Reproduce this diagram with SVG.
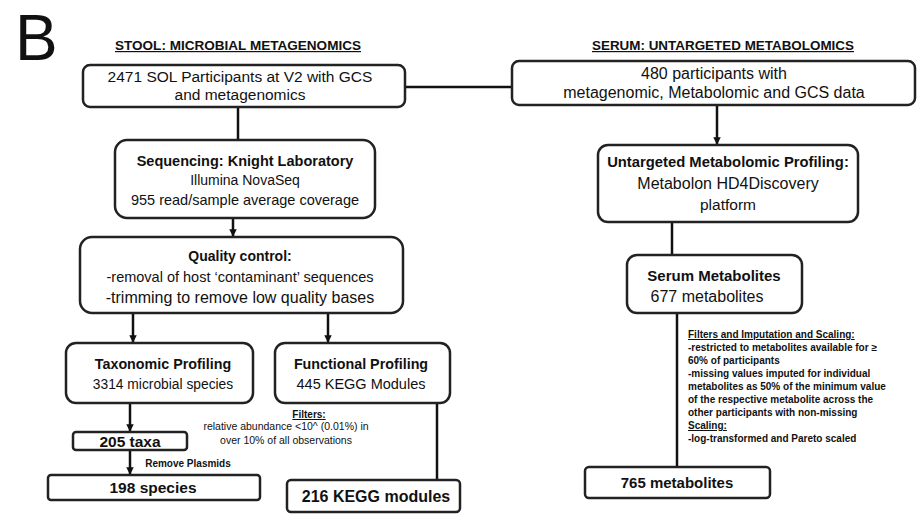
<svg xmlns="http://www.w3.org/2000/svg" width="924" height="515" viewBox="0 0 924 515">
<style>
.box{fill:#fff;stroke:#222;stroke-width:2.5}
.t{font-family:"Liberation Sans",Arial,sans-serif;fill:#111;text-anchor:middle}
.b{font-weight:bold}
.ln{stroke:#111;stroke-width:2.5;fill:none}
.sm{font-family:"Liberation Sans",Arial,sans-serif;fill:#111;font-weight:bold;font-size:10px}
</style>
<defs>
<marker id="ah" viewBox="0 0 10 10" refX="9" refY="5" markerWidth="3" markerHeight="3" orient="auto">
<path d="M0,0 L10,5 L0,10 z" fill="#111"/>
</marker>
</defs>
<rect width="924" height="515" fill="#fff"/>
<text x="15" y="60" font-family="Liberation Sans,Arial,sans-serif" font-size="64" fill="#111">B</text>
<text class="t b" x="238" y="50" font-size="12" text-decoration="underline" textLength="246" lengthAdjust="spacingAndGlyphs">STOOL: MICROBIAL METAGENOMICS</text>
<text class="t b" x="723" y="50" font-size="12" text-decoration="underline" textLength="262" lengthAdjust="spacingAndGlyphs">SERUM: UNTARGETED METABOLOMICS</text>

<g id="connectors">
<line class="ln" x1="405" y1="87" x2="512" y2="87"/>
<line class="ln" x1="238" y1="107" x2="238" y2="140"/>
<line class="ln" x1="233" y1="218" x2="233" y2="236" marker-end="url(#ah)"/>
<line class="ln" x1="133" y1="313" x2="133" y2="342" marker-end="url(#ah)"/>
<line class="ln" x1="328" y1="313" x2="328" y2="342" marker-end="url(#ah)"/>
<line class="ln" x1="130" y1="403" x2="130" y2="431" marker-end="url(#ah)"/>
<line class="ln" x1="130" y1="450" x2="130" y2="474" marker-end="url(#ah)"/>
<line class="ln" x1="437" y1="403" x2="437" y2="480"/>
<line class="ln" x1="717" y1="105" x2="717" y2="144" marker-end="url(#ah)"/>
<line class="ln" x1="672" y1="222" x2="672" y2="255"/>
<line class="ln" x1="677" y1="313" x2="677" y2="467"/>
</g>

<g id="n-participants">
<rect class="box" x="83" y="65" width="322" height="42" rx="7"/>
<text class="t" x="240" y="82" font-size="15.5">2471 SOL Participants at V2 with GCS</text>
<text class="t" x="240" y="100" font-size="15.5">and metagenomics</text>
</g>
<g id="n-serum-participants">
<rect class="box" x="512" y="61" width="403" height="44" rx="7"/>
<text class="t" x="714" y="79" font-size="16">480 participants with</text>
<text class="t" x="714" y="98" font-size="16">metagenomic, Metabolomic and GCS data</text>
</g>
<g id="n-sequencing">
<rect class="box" x="115" y="140" width="260" height="78" rx="12"/>
<text class="t b" x="245" y="166" font-size="14.5">Sequencing: Knight Laboratory</text>
<text class="t" x="245" y="185" font-size="14">Illumina NovaSeq</text>
<text class="t" x="245" y="205" font-size="14.5">955 read/sample average coverage</text>
</g>
<g id="n-qc">
<rect class="box" x="80" y="237" width="323" height="76" rx="12"/>
<text class="t b" x="240" y="261" font-size="14">Quality control:</text>
<text class="t" x="240" y="282" font-size="14.5">-removal of host ‘contaminant’ sequences</text>
<text class="t" x="240" y="303" font-size="16">-trimming to remove low quality bases</text>
</g>
<g id="n-taxonomic">
<rect class="box" x="66" y="343" width="187" height="60" rx="10"/>
<text class="t b" x="163" y="369" font-size="14.3">Taxonomic Profiling</text>
<text class="t" x="163" y="389" font-size="13.8">3314 microbial species</text>
</g>
<g id="n-functional">
<rect class="box" x="275" y="343" width="175" height="60" rx="10"/>
<text class="t b" x="361" y="369" font-size="14.3">Functional Profiling</text>
<text class="t" x="361" y="389" font-size="14.5">445 KEGG Modules</text>
</g>
<g id="n-filters-label">
<text class="sm" x="309" y="418" text-anchor="middle" font-size="11" text-decoration="underline">Filters:</text>
<text class="t" x="286" y="430" font-size="10.5">relative abundance &lt;10^ (0.01%) in</text>
<text class="t" x="286" y="444" font-size="10.5">over 10% of all observations</text>
</g>
<g id="n-205">
<rect class="box" x="73" y="432" width="114" height="18" rx="3"/>
<text class="t b" x="130" y="447" font-size="15.5">205 taxa</text>
</g>
<g id="n-remove">
<text class="sm" x="188" y="467" text-anchor="middle" font-size="10.5">Remove Plasmids</text>
</g>
<g id="n-198">
<rect class="box" x="48" y="475" width="212" height="25" rx="3"/>
<text class="t b" x="153" y="493" font-size="15.5">198 species</text>
</g>
<g id="n-216">
<rect class="box" x="287" y="480" width="173" height="32" rx="4"/>
<text class="t b" x="376" y="502" font-size="16">216 KEGG modules</text>
</g>
<g id="n-untargeted">
<rect class="box" x="598" y="145" width="260" height="77" rx="10"/>
<text class="t b" x="728" y="167" font-size="14.8">Untargeted Metabolomic Profiling:</text>
<text class="t" x="728" y="189" font-size="16">Metabolon HD4Discovery</text>
<text class="t" x="728" y="210" font-size="15.5">platform</text>
</g>
<g id="n-serum-metabolites">
<rect class="box" x="627" y="255" width="175" height="58" rx="10"/>
<text class="t b" x="714" y="281" font-size="15">Serum Metabolites</text>
<text class="t" x="707" y="302" font-size="16">677 metabolites</text>
</g>
<g id="n-filter-notes">
<text class="sm" x="688" y="338" text-decoration="underline">Filters and Imputation and Scaling:</text>
<text class="sm" x="688" y="351">-restricted to metabolites available for ≥</text>
<text class="sm" x="688" y="364">60% of participants</text>
<text class="sm" x="688" y="377">-missing values imputed for individual</text>
<text class="sm" x="688" y="390">metabolites as 50% of the minimum value</text>
<text class="sm" x="688" y="403">of the respective metabolite across the</text>
<text class="sm" x="688" y="416">other participants with non-missing</text>
<text class="sm" x="688" y="429" text-decoration="underline">Scaling:</text>
<text class="sm" x="688" y="442">-log-transformed and Pareto scaled</text>
</g>
<g id="n-765">
<rect class="box" x="585" y="467" width="185" height="31" rx="4"/>
<text class="t b" x="677" y="488" font-size="15">765 metabolites</text>
</g>
</svg>
